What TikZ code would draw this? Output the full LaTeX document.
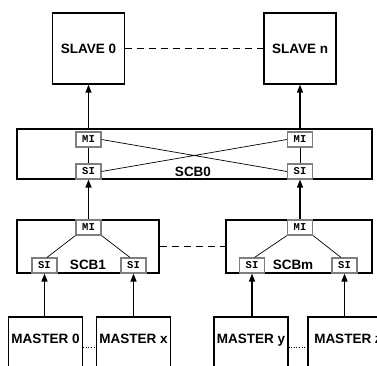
\documentclass[tikz,border=0pt]{standalone}
\usepackage{fontspec}
\setmainfont{Liberation Sans}
\newfontfamily\portfont{Liberation Mono}
\usepackage{xcolor}
\definecolor{clPort}{HTML}{7F7F7F}
\usetikzlibrary{arrows.meta,positioning,calc}
\tikzset{
  box/.style={rectangle, draw, line width=1.2pt, align=center, inner sep=0pt,
              font=\fontsize{13.5}{16}\selectfont\bfseries},
  slave/.style={box, minimum width=72pt, minimum height=71pt},
  switch/.style={box, minimum height=51pt},
  master/.style={box, minimum width=74pt, text height=26pt, text depth=60pt},
  port/.style={rectangle, draw=clPort, line width=1.1pt, fill=white, inner sep=0pt,
               minimum width=25pt, minimum height=15pt,
               font=\portfont\fontsize{10.5}{12}\selectfont\bfseries},
  flow/.style={-{Triangle[length=8pt,width=6pt]}, line width=1.2pt},
  wire/.style={line width=0.7pt},
  link/.style={line width=1pt, dash pattern=on 7pt off 5pt},
  gap/.style={line width=0.6pt, dotted},
  scblabel/.style={font=\fontsize{13.5}{16}\selectfont\bfseries, inner sep=0pt},
}

\begin{document}
\begin{tikzpicture}[x=1pt, y=-1pt]
  \useasboundingbox (0,0) rectangle (377,366);
  \clip (0,0) rectangle (377,366);
  % slaves
  \node[slave] (slave0) at (88.5,48.5) {SLAVE 0};
  \node[slave] (slaven) at (300,48.5) {SLAVE n};
  \draw[link] (slave0.east) -- (slaven.west);
  % top switch
  \node[switch, minimum width=355pt, minimum height=50pt] (scb0) at (194.5,154) {};
  \node[port] (mi0l) at (88.5,139.5) {MI};
  \node[port] (si0l) at (88.5,171.5) {SI};
  \node[port] (mi0r) at (300,139.5) {MI};
  \node[port] (si0r) at (300,171.5) {SI};
  \node[scblabel] (lbl0) at (193,172) {SCB0};
  \draw[wire] (mi0l) -- (si0l) (mi0r) -- (si0r);
  \draw[wire] (mi0l.east) -- (si0r.west) (si0l.east) -- (mi0r.west);
  \draw[flow] (scb0.north -| slave0) -- (slave0.south);
  \draw[flow] (scb0.north -| slaven) -- (slaven.south);
  % lower switches
  \node[switch, minimum width=142pt, minimum height=53pt] (scb1) at (88,246.5) {};
  \node[switch, minimum width=146pt, minimum height=53pt] (scbm) at (299,246.5) {};
  \draw[link] (scb1.east) -- (scbm.west);
  \node[port] (mi1) at (88.5,227.5) {MI};
  \node[port] (si1l) at (44.5,265.5) {SI};
  \node[port] (si1r) at (133.5,265.5) {SI};
  \node[scblabel] (lbl1) at (88,265) {SCB1};
  \node[port] (mim) at (300,227.5) {MI};
  \node[port] (siml) at (252,265.5) {SI};
  \node[port] (simr) at (344.5,265.5) {SI};
  \node[scblabel] (lblm) at (293,265) {SCBm};
  \draw[wire] (mi1.south west) -- ([xshift=2.5pt]si1l.north)
              (mi1.south east) -- ([xshift=-3.5pt]si1r.north);
  \draw[wire] (mim.south west) -- ([xshift=2.5pt]siml.north)
              (mim.south east) -- ([xshift=-3.5pt]simr.north);
  \draw[flow] (mi1.north) -- (si0l.south);
  \draw[flow] (mim.north) -- (si0r.south);
  % masters
  \node[master, anchor=base] (m0) at (45.5,343) {MASTER 0};
  \node[master, anchor=base] (mx) at (133.5,343) {MASTER x};
  \node[master, anchor=base] (my) at (251,343) {MASTER y};
  \node[master, anchor=base, minimum width=80pt] (mz) at (348,343) {MASTER z};
  \draw[gap] ([yshift=-4pt]m0.base east) -- ([yshift=-4pt]mx.base west);
  \draw[gap] ([yshift=-4pt]my.base east) -- ([yshift=-4pt]mz.base west);
  \foreach \src/\dst in {m0/si1l, mx/si1r, my/siml, mz/simr}
    \draw[flow] (\src.north -| \dst.south) -- (\dst.south);
\end{tikzpicture}
\end{document}
